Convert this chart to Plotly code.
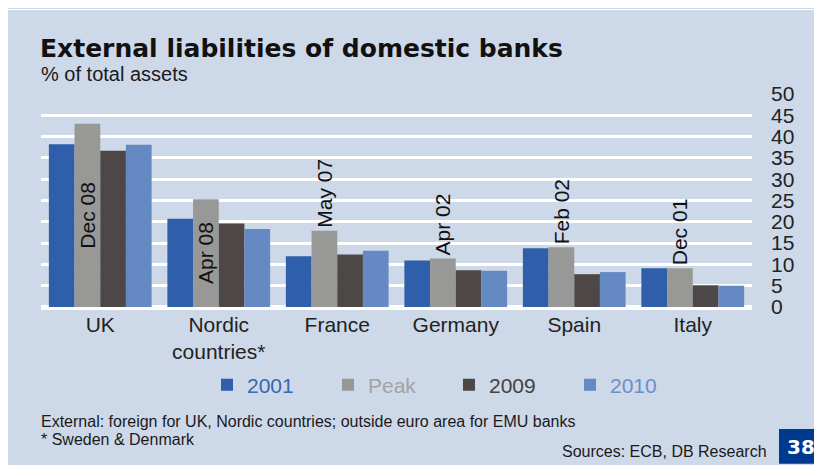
import plotly.graph_objects as go

# data
COUNTRIES = ["UK", "Nordic<br>countries*", "France", "Germany", "Spain", "Italy"]
V2001 = [38.2, 20.7, 11.9, 10.9, 13.8, 9.1]
PEAK = [43.0, 25.3, 17.9, 11.4, 14.0, 9.1]
V2009 = [36.7, 19.6, 12.3, 8.6, 7.7, 5.1]
V2010 = [38.1, 18.3, 13.2, 8.5, 8.2, 5.0]
PEAK_DATES = ["Dec 08", "Apr 08", "May 07", "Apr 02", "Feb 02", "Dec 01"]
PEAK_POS = ["inside", "inside", "outside", "outside", "outside", "outside"]

# the page body has an 8px margin, so the figure starts at (8, 8)
OFF = 8
W, H = 822 - OFF, 465 - OFF
L, R, T, B = 41, 752, 93.5, 307.5  # plot area in page pixels
BG = "#CDD8E9"
FONT = "Liberation Sans, Arial, sans-serif"


def px(x):
    return (x - L) / (R - L)


def py(y):
    return (B - y) / (B - T)


series = [
    ("2001", V2001, "#2F5EAA", "#3A66B4"),
    ("Peak", PEAK, "#989896", "#A3A3A3"),
    ("2009", V2009, "#4D4847", "#444040"),
    ("2010", V2010, "#6589C2", "#6C8FCB"),
]

fig = go.Figure()
for name, vals, col, tcol in series:
    kw = {}
    if name == "Peak":
        kw = dict(
            text=PEAK_DATES,
            textposition=PEAK_POS,
            textangle=-90,
            insidetextanchor="middle",
            constraintext="none",
            textfont=dict(family=FONT, size=21, color="#111"),
            insidetextfont=dict(family=FONT, size=21, color="#111"),
            outsidetextfont=dict(family=FONT, size=21, color="#111"),
            cliponaxis=False,
        )
    fig.add_trace(
        go.Bar(
            x=COUNTRIES,
            y=vals,
            name=f"<span style='color:{tcol}'>{name}</span>",
            marker=dict(color=col, line=dict(width=0)),
            **kw,
        )
    )

fig.update_layout(
    width=W,
    height=H,
    margin=dict(l=L - OFF, r=822 - R, t=T - OFF, b=465 - B, pad=0),
    paper_bgcolor=BG,
    plot_bgcolor=BG,
    barmode="group",
    bargap=0.133,
    bargroupgap=0,
    font=dict(family=FONT, size=21, color="#222"),
    showlegend=True,
    legend=dict(
        orientation="h",
        x=px(207),
        xanchor="left",
        y=py(386),
        yanchor="middle",
        entrywidth=76,
        entrywidthmode="pixels",
        font=dict(family=FONT, size=21),
        bgcolor="rgba(0,0,0,0)",
        traceorder="normal",
    ),
    xaxis=dict(
        showgrid=False,
        showline=False,
        ticks="",
        ticklabelstandoff=3,
        tickfont=dict(size=21, color="#222"),
    ),
    yaxis=dict(
        side="right",
        range=[0, 50],
        dtick=5,
        showgrid=True,
        gridcolor="white",
        gridwidth=2.5,
        zeroline=True,
        zerolinecolor="white",
        zerolinewidth=5,
        showline=False,
        ticks="",
        ticklabelstandoff=18,
        tickfont=dict(size=21, color="#222"),
    ),
)

# thin white strip along the top edge
fig.add_shape(
    type="rect", xref="paper", yref="paper",
    x0=px(OFF), x1=px(822), y0=py(9), y1=py(OFF),
    fillcolor="white", line=dict(width=0), layer="below",
)
# page-number badge
fig.add_shape(
    type="rect", xref="paper", yref="paper",
    x0=px(779), x1=px(822), y0=py(465), y1=py(430),
    fillcolor="#003A8F", line=dict(width=0), layer="above",
)


def note(text, x, y, size, anchor="left", color="#1a1a1a", family=FONT):
    fig.add_annotation(
        text=text, xref="paper", yref="paper", x=px(x), y=py(y),
        xanchor=anchor, yanchor="middle", showarrow=False,
        font=dict(family=family, size=size, color=color),
    )


note("<b>External liabilities of domestic banks</b>", 38, 48, 25,
     family="DejaVu Sans, sans-serif", color="#111111")
note("% of total assets", 39, 73, 20)
note("External: foreign for UK, Nordic countries; outside euro area for EMU banks", 39, 423, 16)
note("* Sweden & Denmark", 39, 440.5, 16)
note("Sources: ECB, DB Research", 769, 453, 16, anchor="right")
note("<b>38</b>", 800.5, 448, 20, anchor="center", color="white",
     family="DejaVu Sans, sans-serif")

fig.write_html("out.html")
